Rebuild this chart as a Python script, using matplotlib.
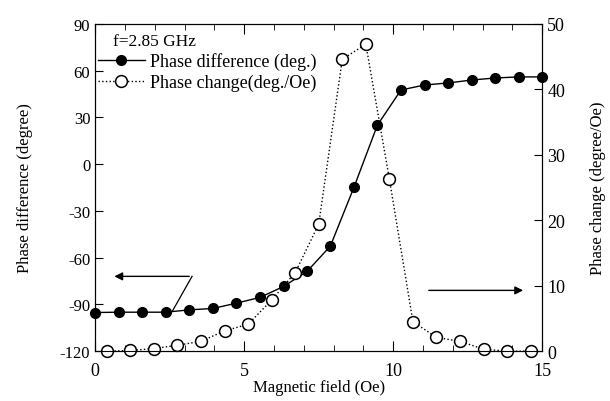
import numpy as np
import matplotlib.pyplot as plt

plt.rcParams['font.family'] = ['Liberation Serif', 'DejaVu Serif']
plt.rcParams['axes.unicode_minus'] = False

# phase difference (left axis), filled circles
field_diff = [0, 0.79, 1.58, 2.37, 3.16, 3.95, 4.74, 5.53, 6.32, 7.11,
              7.89, 8.68, 9.47, 10.26, 11.05, 11.84, 12.63, 13.42, 14.21, 15]
phase_diff = [-95.2, -95.0, -95.0, -95.0, -93.5, -92.6, -89.2, -85.5, -78.5, -68.8,
              -52.6, -14.9, 25.1, 47.6, 50.8, 52.1, 54.0, 55.3, 56.0, 56.0]

# phase change (right axis), open circles
field_chg = [0.40, 1.18, 1.97, 2.76, 3.55, 4.34, 5.13, 5.92, 6.71, 7.50,
             8.29, 9.08, 9.87, 10.66, 11.45, 12.24, 13.03, 13.82, 14.61]
phase_chg = [0.0, 0.1, 0.4, 0.9, 1.5, 3.1, 4.1, 7.8, 12.0, 19.4,
             44.6, 46.9, 26.3, 4.5, 2.1, 1.5, 0.3, 0.0, 0.0]

fig = plt.figure(figsize=(6.1, 4.02), dpi=100)
ax = fig.add_axes([0.156, 0.124, 0.733, 0.814])
ax2 = ax.twinx()

l1, = ax.plot(field_diff, phase_diff, '-', color='black', lw=1,
              marker='o', ms=7, mfc='black', mec='black', clip_on=False, zorder=3)
l2, = ax2.plot(field_chg, phase_chg, ':', color='black', lw=1,
               marker='o', ms=8.5, mfc='white', mec='black', mew=1.1, clip_on=False)

ax.set_xlim(0, 15)
ax.set_ylim(-120, 90)
ax2.set_ylim(0, 50)
ax.set_xticks([0, 5, 10, 15])
ax.set_xticks(np.arange(0, 16, 1), minor=True)
ax.set_yticks(np.arange(-120, 91, 30))
ax2.set_yticks(np.arange(0, 51, 10))

ax.tick_params(axis='x', which='both', direction='in', top=True, labelsize=13, pad=8)
ax.tick_params(axis='x', which='major', length=7)
ax.tick_params(axis='x', which='minor', length=4)
ax.tick_params(axis='y', direction='in', length=6, labelsize=12)
ax2.tick_params(axis='y', direction='in', length=6, labelsize=13)

ax.set_xlabel('Magnetic field (Oe)', fontsize=12, labelpad=0)
ax.set_ylabel('Phase difference (degree)', fontsize=12, labelpad=19)
ax2.set_ylabel('Phase change (degree/Oe)', fontsize=12, labelpad=18)

# arrows
ax.annotate('', xy=(0.55, -72), xytext=(3.25, -72),
            arrowprops=dict(arrowstyle='-|>', color='black', lw=1, mutation_scale=12))
ax.plot([3.25, 2.6], [-72, -94], color='black', lw=0.9)
ax.annotate('', xy=(14.45, -81), xytext=(11.1, -81),
            arrowprops=dict(arrowstyle='-|>', color='black', lw=1, mutation_scale=12))

ax.text(0.6, 79, 'f=2.85 GHz', fontsize=12.5, va='center')
ax2.legend([l1, l2], ['Phase difference (deg.)', 'Phase change(deg./Oe)'],
           loc='upper left', bbox_to_anchor=(-0.01, 0.935), frameon=False,
           fontsize=13, handlelength=2.6, handletextpad=0.3, borderaxespad=0,
           labelspacing=0.2)

fig.savefig('out.png', dpi=100)
